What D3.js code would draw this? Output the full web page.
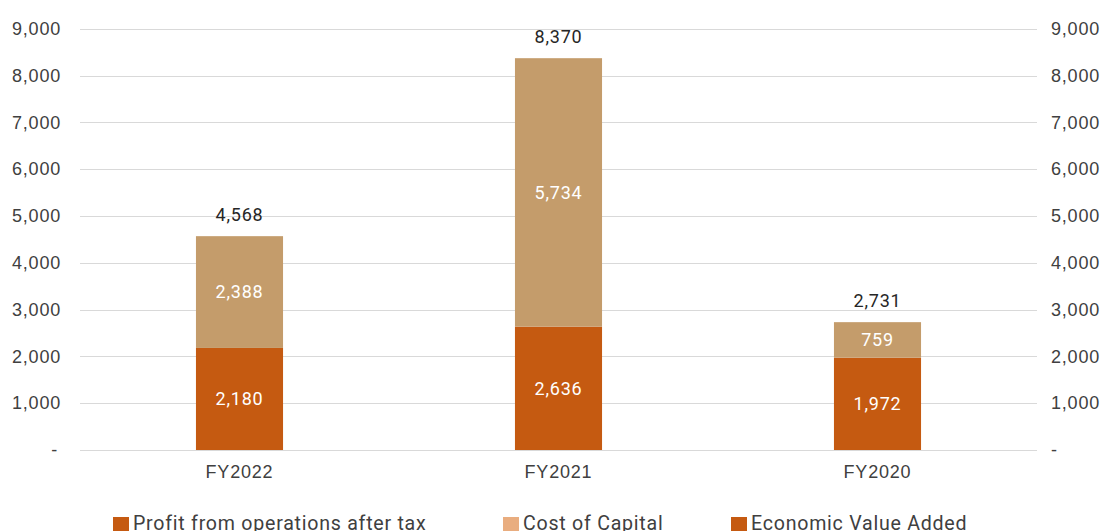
<!DOCTYPE html>
<html>
<head>
<meta charset="utf-8">
<script src="https://cdn.jsdelivr.net/npm/d3@7"></script>
<style>
  body { margin: 0; background: #fff; }
  svg { display: block; font-family: Roboto, "Open Sans", sans-serif; letter-spacing: 0.8px; }
</style>
</head>
<body>
<svg></svg>
<script>
let years = ['FY2022', 'FY2021', 'FY2020']
let eva = [2180, 2636, 1972]
let costOfCapital = [2388, 5734, 759]
let totals = [4568, 8370, 2731]
let tickValues = [0, 1000, 2000, 3000, 4000, 5000, 6000, 7000, 8000, 9000]
let legendNames = ['Profit from operations after tax', 'Cost of Capital', 'Economic Value Added']

let width = 1102
let height = 531
let plotLeft = 80
let plotRight = 1037
let plotTop = 28.7
let plotBottom = 450

let darkOrange = '#C55A11'
let tan = '#C49C6B'
let textColor = '#404040'

let svg = d3.select('svg').attr('width', width).attr('height', height)

let xScale = d3.scaleBand().domain(years).range([plotLeft, plotRight]).paddingInner(0.727).paddingOuter(0.3635)
let yScale = d3.scaleLinear().domain([0, 9000]).range([plotBottom, plotTop])

let fmt = d3.format(',')
let tickText = (d) => d === 0 ? '-' : fmt(d)

// gridlines
svg.append('g')
  .selectAll('line')
  .data(tickValues)
  .enter()
  .append('line')
  .attr('x1', plotLeft)
  .attr('x2', plotRight)
  .attr('y1', d => Math.round(yScale(d)) + 0.5)
  .attr('y2', d => Math.round(yScale(d)) + 0.5)
  .attr('stroke', '#d9d9d9')
  .attr('stroke-width', 1)

// left axis
let leftAxis = d3.axisLeft(yScale).tickValues(tickValues).tickFormat(tickText).tickSize(0).tickPadding(19)
let gl = svg.append('g').attr('transform', `translate(${plotLeft},0)`).call(leftAxis)
gl.select('.domain').remove()
gl.selectAll('text').attr('fill', textColor).style('font-size', '18px').attr('dx', d => d === 0 ? -3 : 0)

// right axis
let rightAxis = d3.axisRight(yScale).tickValues(tickValues).tickFormat(tickText).tickSize(0).tickPadding(14)
let gr = svg.append('g').attr('transform', `translate(${plotRight},0)`).call(rightAxis)
gr.select('.domain').remove()
gr.selectAll('text').attr('fill', textColor).style('font-size', '18px')

// bars
let rows = years.map((y, i) => ({ year: y, eva: eva[i], coc: costOfCapital[i], total: totals[i] }))

svg.append('g')
  .selectAll('rect')
  .data(rows)
  .enter()
  .append('rect')
  .attr('x', d => xScale(d.year))
  .attr('width', xScale.bandwidth())
  .attr('y', d => yScale(d.eva))
  .attr('height', d => yScale(0) - yScale(d.eva))
  .attr('fill', darkOrange)

svg.append('g')
  .selectAll('rect')
  .data(rows)
  .enter()
  .append('rect')
  .attr('x', d => xScale(d.year))
  .attr('width', xScale.bandwidth())
  .attr('y', d => yScale(d.eva + d.coc))
  .attr('height', d => yScale(d.eva) - yScale(d.eva + d.coc))
  .attr('fill', tan)

// labels inside bars
let labels = svg.append('g').style('font-size', '18px').attr('text-anchor', 'middle')

labels.selectAll('.lblEva')
  .data(rows)
  .enter()
  .append('text')
  .attr('x', d => xScale(d.year) + xScale.bandwidth() / 2)
  .attr('y', d => yScale(d.eva / 2))
  .attr('dy', '0.35em')
  .attr('fill', '#fff')
  .text(d => fmt(d.eva))

labels.selectAll('.lblCoc')
  .data(rows)
  .enter()
  .append('text')
  .attr('x', d => xScale(d.year) + xScale.bandwidth() / 2)
  .attr('y', d => yScale(d.eva + d.coc / 2))
  .attr('dy', '0.35em')
  .attr('fill', '#fff')
  .text(d => fmt(d.coc))

labels.selectAll('.lblTotal')
  .data(rows)
  .enter()
  .append('text')
  .attr('x', d => xScale(d.year) + xScale.bandwidth() / 2)
  .attr('y', d => yScale(d.eva + d.coc) - 21)
  .attr('dy', '0.35em')
  .attr('fill', '#262626')
  .text(d => fmt(d.total))

// x axis labels
let xAxis = d3.axisBottom(xScale).tickSize(0).tickPadding(15)
let gx = svg.append('g').attr('transform', `translate(0,${plotBottom})`).call(xAxis)
gx.select('.domain').remove()
gx.selectAll('text').attr('fill', textColor).style('font-size', '18px')

// legend
let legendX = [113, 503, 731]
let legendColors = [darkOrange, '#E9AD7F', darkOrange]
let legend = svg.append('g')
legendNames.forEach((name, i) => {
  legend.append('rect')
    .attr('x', legendX[i]).attr('y', 517)
    .attr('width', 16).attr('height', 16)
    .attr('fill', legendColors[i])
  legend.append('text')
    .attr('x', legendX[i] + 20).attr('y', 530)
    .attr('fill', textColor)
    .style('font-size', '19.6px')
    .style('letter-spacing', '0.75px')
    .text(name)
})
</script>
</body>
</html>
